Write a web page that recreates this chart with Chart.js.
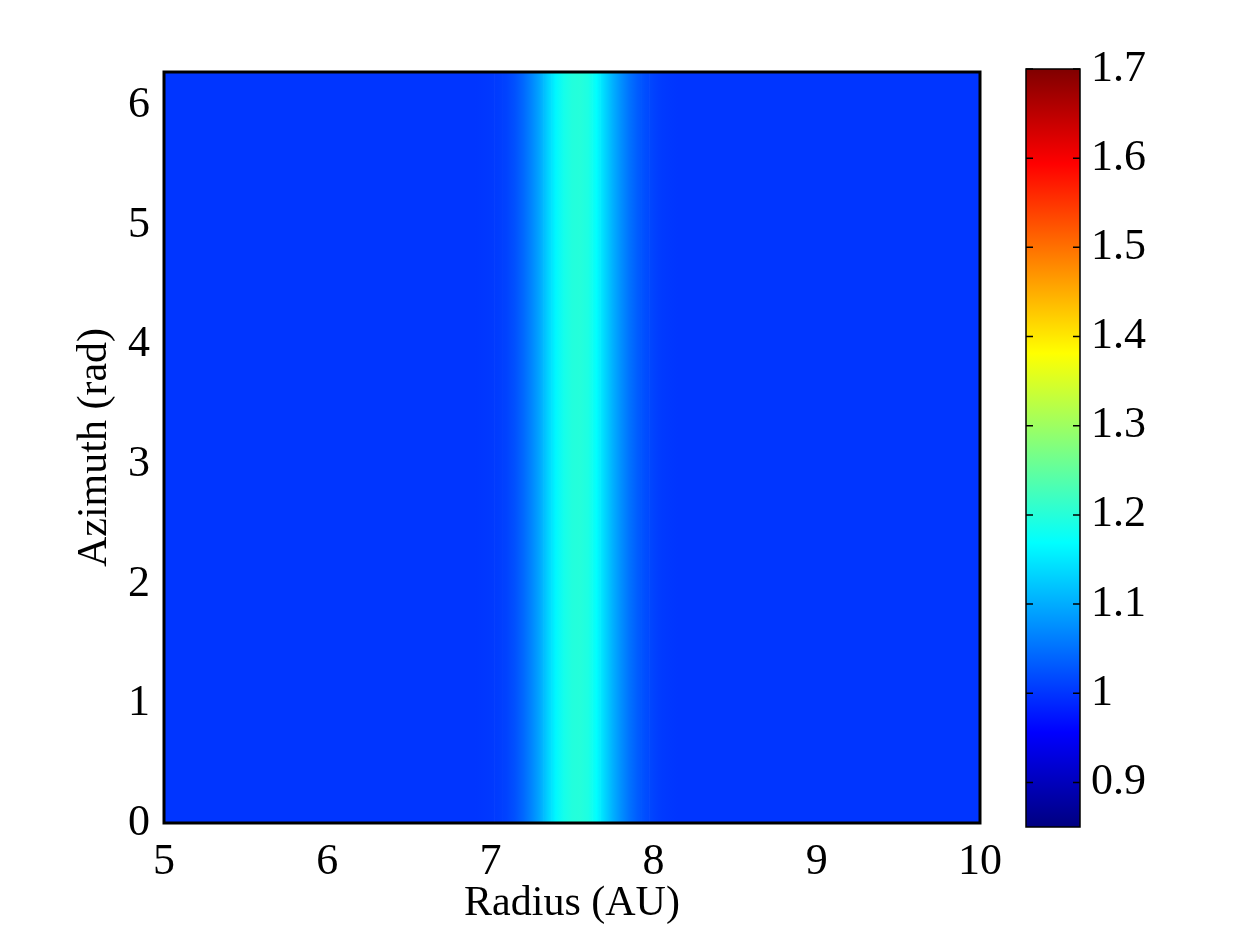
<!DOCTYPE html>
<html>
<head>
<meta charset="utf-8">
<title>Azimuth vs Radius</title>
<script src="https://cdn.jsdelivr.net/npm/chart.js@4.4.0/dist/chart.umd.min.js"></script>
<style>
    html, body { margin: 0; padding: 0; background: #fff; }
    #wrap { position: relative; width: 1245px; height: 934px; }
    #fieldChart { position: absolute; left: 0; top: 0; }
    #colorbarChart { position: absolute; left: 1000px; top: 0; }
</style>
</head>
<body>
<div id="wrap">
    <canvas id="fieldChart" width="1245" height="934"></canvas>
    <canvas id="colorbarChart" width="245" height="934"></canvas>
</div>
<script>
// Radial profile (same value at every azimuth)
const radius = [5.0, 6.9, 6.95, 7.0, 7.05, 7.1, 7.15, 7.2, 7.25, 7.3, 7.35, 7.4, 7.45, 7.5,
                7.55, 7.6, 7.65, 7.7, 7.75, 7.8, 7.85, 7.9, 7.95, 8.0, 8.05, 8.1, 8.15, 10.0];
const density = [1.0, 1.0, 1.001, 1.003, 1.006, 1.012, 1.024, 1.042, 1.066, 1.094, 1.130, 1.162, 1.185, 1.197,
                 1.200, 1.192, 1.168, 1.135, 1.104, 1.076, 1.052, 1.034, 1.020, 1.011, 1.005, 1.002, 1.0, 1.0];
const azimuthSpan = [0, 6.2832];

// Axis ticks
const radiusTicks = [5, 6, 7, 8, 9, 10];
const azimuthTicks = [0, 1, 2, 3, 4, 5, 6];
const colorRange = [0.85, 1.7];
const colorTicks = [0.9, 1, 1.1, 1.2, 1.3, 1.4, 1.5, 1.6, 1.7];

Chart.defaults.font.family = '"Liberation Serif", "Times New Roman", serif';
Chart.defaults.color = '#000';

// MATLAB-style jet colormap
function jet(v) {
    const f = (v - colorRange[0]) / (colorRange[1] - colorRange[0]);
    const c = x => Math.round(255 * Math.min(1, Math.max(0, x)));
    return `rgb(${c(1.5 - Math.abs(4 * f - 3))},${c(1.5 - Math.abs(4 * f - 2))},${c(1.5 - Math.abs(4 * f - 1))})`;
}

// Horizontal gradient through the radius stops (smooth shading between cells)
function fieldFill(context) {
    const chart = context.chart;
    const x = chart.scales.x;
    if (!chart.chartArea || !x) return jet(1);
    const g = chart.ctx.createLinearGradient(x.left, 0, x.right, 0);
    const span = x.right - x.left;
    radius.forEach((r, i) => {
        const pos = (x.getPixelForValue(r) - x.left) / span;
        g.addColorStop(Math.min(1, Math.max(0, pos)), jet(density[i]));
    });
    return g;
}

function colorbarFill(context) {
    const chart = context.chart;
    const y = chart.scales.y;
    if (!chart.chartArea || !y) return jet(1);
    const g = chart.ctx.createLinearGradient(0, y.getPixelForValue(colorRange[0]), 0, y.getPixelForValue(colorRange[1]));
    [0, 1 / 8, 3 / 8, 5 / 8, 7 / 8, 1].forEach(f => {
        g.addColorStop(f, jet(colorRange[0] + f * (colorRange[1] - colorRange[0])));
    });
    return g;
}

const tickFont = { size: 44 };
const titleFont = { size: 42 };

const plotFrame = {
    id: 'plotFrame',
    afterDraw(chart) {
        const { ctx, chartArea } = chart;
        ctx.save();
        ctx.strokeStyle = '#000';
        ctx.lineWidth = 3;
        ctx.strokeRect(chartArea.left, chartArea.top, chartArea.right - chartArea.left, chartArea.bottom - chartArea.top);
        ctx.restore();
    }
};

const colorbarFrame = {
    id: 'colorbarFrame',
    afterDraw(chart) {
        const { ctx, chartArea } = chart;
        const y = chart.scales.y;
        ctx.save();
        ctx.strokeStyle = '#000';
        ctx.lineWidth = 1.5;
        ctx.strokeRect(chartArea.left, chartArea.top, chartArea.right - chartArea.left, chartArea.bottom - chartArea.top);
        ctx.beginPath();
        y.ticks.forEach(t => {
            const py = y.getPixelForValue(t.value);
            ctx.moveTo(chartArea.left, py);
            ctx.lineTo(chartArea.left + 7, py);
            ctx.moveTo(chartArea.right - 7, py);
            ctx.lineTo(chartArea.right, py);
        });
        ctx.stroke();
        ctx.restore();
    }
};

function initCharts() {
    // Field map: one floating bar per radial cell, spanning the full azimuth range
    new Chart(document.getElementById('fieldChart'), {
        type: 'bar',
        data: {
            datasets: [{
                data: radius.map(r => ({ x: r, y: azimuthSpan })),
                backgroundColor: fieldFill,
                borderWidth: 0,
                barThickness: 'flex',
                barPercentage: 1,
                categoryPercentage: 1,
                clip: 0
            }]
        },
        options: {
            responsive: false,
            animation: false,
            devicePixelRatio: 1,
            layout: { padding: { left: 0, top: 72, right: 265, bottom: 0 } },
            plugins: { legend: { display: false }, tooltip: { enabled: false } },
            scales: {
                x: {
                    type: 'linear',
                    min: 5,
                    max: 10,
                    offset: false,
                    grid: { display: false, drawTicks: false },
                    border: { display: false },
                    afterBuildTicks: s => { s.ticks = radiusTicks.map(v => ({ value: v })); },
                    ticks: { padding: 13, font: tickFont, maxRotation: 0, autoSkip: false },
                    title: { display: true, text: 'Radius (AU)', font: titleFont, padding: { top: 0, bottom: 5 } },
                    afterFit: s => { s.height = 111; }
                },
                y: {
                    type: 'linear',
                    min: azimuthSpan[0],
                    max: azimuthSpan[1],
                    grid: { display: false, drawTicks: false },
                    border: { display: false },
                    afterBuildTicks: s => { s.ticks = azimuthTicks.map(v => ({ value: v })); },
                    ticks: { padding: 14, font: tickFont, autoSkip: false },
                    title: { display: true, text: 'Azimuth (rad)', font: titleFont, padding: { top: 70, bottom: 0 } },
                    afterFit: s => { s.width = 164; }
                }
            }
        },
        plugins: [plotFrame]
    });

    // Colorbar
    new Chart(document.getElementById('colorbarChart'), {
        type: 'bar',
        data: {
            labels: [''],
            datasets: [{
                data: [colorRange],
                backgroundColor: colorbarFill,
                borderWidth: 0,
                barPercentage: 1,
                categoryPercentage: 1
            }]
        },
        options: {
            responsive: false,
            animation: false,
            devicePixelRatio: 1,
            layout: { padding: { left: 26, top: 69, right: 0, bottom: 107 } },
            plugins: { legend: { display: false }, tooltip: { enabled: false } },
            scales: {
                x: { display: false },
                y: {
                    position: 'right',
                    min: colorRange[0],
                    max: colorRange[1],
                    grid: { display: false, drawTicks: false },
                    border: { display: false },
                    afterBuildTicks: s => { s.ticks = colorTicks.map(v => ({ value: v })); },
                    ticks: {
                        padding: 11,
                        font: tickFont,
                        autoSkip: false,
                        callback: v => String(Math.round(v * 10) / 10)
                    },
                    afterFit: s => { s.width = 165; }
                }
            }
        },
        plugins: [colorbarFrame]
    });
}

document.addEventListener('DOMContentLoaded', function () {
    initCharts();
});
</script>
</body>
</html>
